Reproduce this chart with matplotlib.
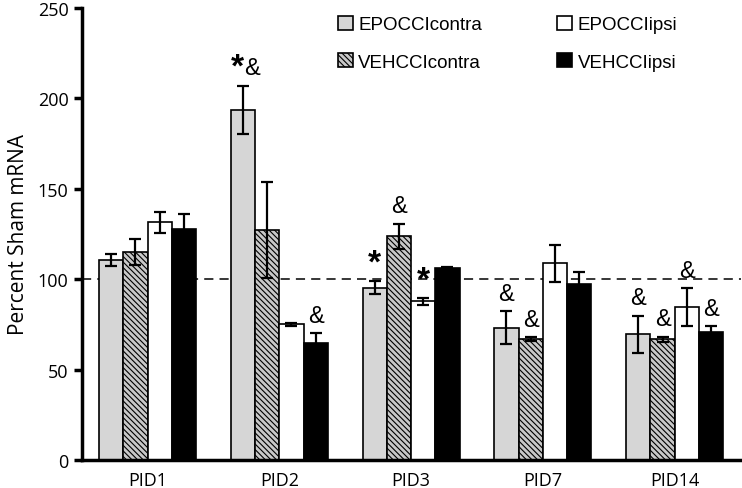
import matplotlib.pyplot as plt
import numpy as np

groups = ['PID1', 'PID2', 'PID3', 'PID7', 'PID14']
series = ['EPOCCIcontra', 'VEHCCIcontra', 'EPOCCIipsi', 'VEHCCIipsi']

epo_contra = [110.6, 193.5, 95.2, 73.3, 69.6]
epo_contra_err = [3.3, 13.5, 3.6, 9.2, 10.2]
veh_contra = [115, 127, 123.7, 67, 66.7]
veh_contra_err = [7, 26.6, 7, 1, 1.5]
epo_ipsi = [131.5, 75, 87.7, 108.7, 84.7]
epo_ipsi_err = [5.7, 1, 2, 10.2, 10.3]
veh_ipsi = [128, 65, 106, 97.4, 70.9]
veh_ipsi_err = [8, 5, 1, 6.5, 3]

# significance marks per series (same order as groups)
epo_contra_sig = ['', '*&', '*', '&', '&']
veh_contra_sig = ['', '', '&', '&', '&']
epo_ipsi_sig = ['', '', '*', '', '&']
veh_ipsi_sig = ['', '&', '', '', '&']

plt.rcParams['hatch.color'] = '#3a3a3a'
plt.rcParams['hatch.linewidth'] = 0.8

fig = plt.figure(figsize=(7.42, 4.89), dpi=100)
ax = fig.add_axes([0.11, 0.057, 0.888, 0.925])

x = np.arange(len(groups))
w = 0.184
vals = [epo_contra, veh_contra, epo_ipsi, veh_ipsi]
errs = [epo_contra_err, veh_contra_err, epo_ipsi_err, veh_ipsi_err]
sigs = [epo_contra_sig, veh_contra_sig, epo_ipsi_sig, veh_ipsi_sig]
faces = ['#d6d6d6', '#c8c8c8', 'white', 'black']
hatches = [None, '\\\\\\\\\\\\', None, None]

for i in range(4):
    pos = x + (i - 1.5) * w
    ax.bar(pos, vals[i], w, color=faces[i], edgecolor='black', linewidth=1.2,
           hatch=hatches[i], label=series[i], zorder=2)
    ax.errorbar(pos, vals[i], yerr=errs[i], fmt='none', ecolor='black',
                elinewidth=1.6, capsize=4.5, capthick=1.6, zorder=3)
    for j in range(len(groups)):
        s = sigs[i][j]
        if not s:
            continue
        top = vals[i][j] + errs[i][j] + 3.5
        if s == '*&':
            ax.text(pos[j] + 0.01, top - 2, '*', ha='right', va='bottom',
                    fontsize=24, fontweight='bold', family='Liberation Sans')
            ax.text(pos[j] + 0.01, top, '&', ha='left', va='bottom',
                    fontsize=17, family='Liberation Sans')
        elif s == '*':
            ax.text(pos[j], top - 2, '*', ha='center', va='bottom',
                    fontsize=24, fontweight='bold', family='Liberation Sans')
        else:
            ax.text(pos[j], top, s, ha='center', va='bottom',
                    fontsize=17, family='Liberation Sans')

ax.axhline(100, color='black', linestyle=(0, (6, 4)), linewidth=1.1, zorder=1)

ax.set_xlim(-0.5, 4.5)
ax.set_ylim(0, 250)
ax.set_yticks([0, 50, 100, 150, 200, 250])
ax.set_xticks(x)
ax.set_xticklabels(groups)
ax.tick_params(axis='x', length=0, pad=8, labelsize=13)
ax.tick_params(axis='y', width=2.5, length=6, labelsize=13, direction='out')
for lab in ax.get_xticklabels() + ax.get_yticklabels():
    lab.set_family('Open Sans')
ax.spines['top'].set_visible(False)
ax.spines['right'].set_visible(False)
ax.spines['left'].set_linewidth(2.5)
ax.spines['bottom'].set_linewidth(2.5)
ax.set_ylabel('Percent Sham mRNA', fontsize=15, family='Open Sans', labelpad=6)

ax.legend(ncol=2, frameon=False, loc='upper right', bbox_to_anchor=(0.93, 1.02),
          prop={'family': 'Liberation Sans', 'size': 13.5},
          handlelength=0.8, handleheight=0.8, handletextpad=0.3,
          columnspacing=4.0, labelspacing=1.05)

plt.savefig('out.png', dpi=100)
